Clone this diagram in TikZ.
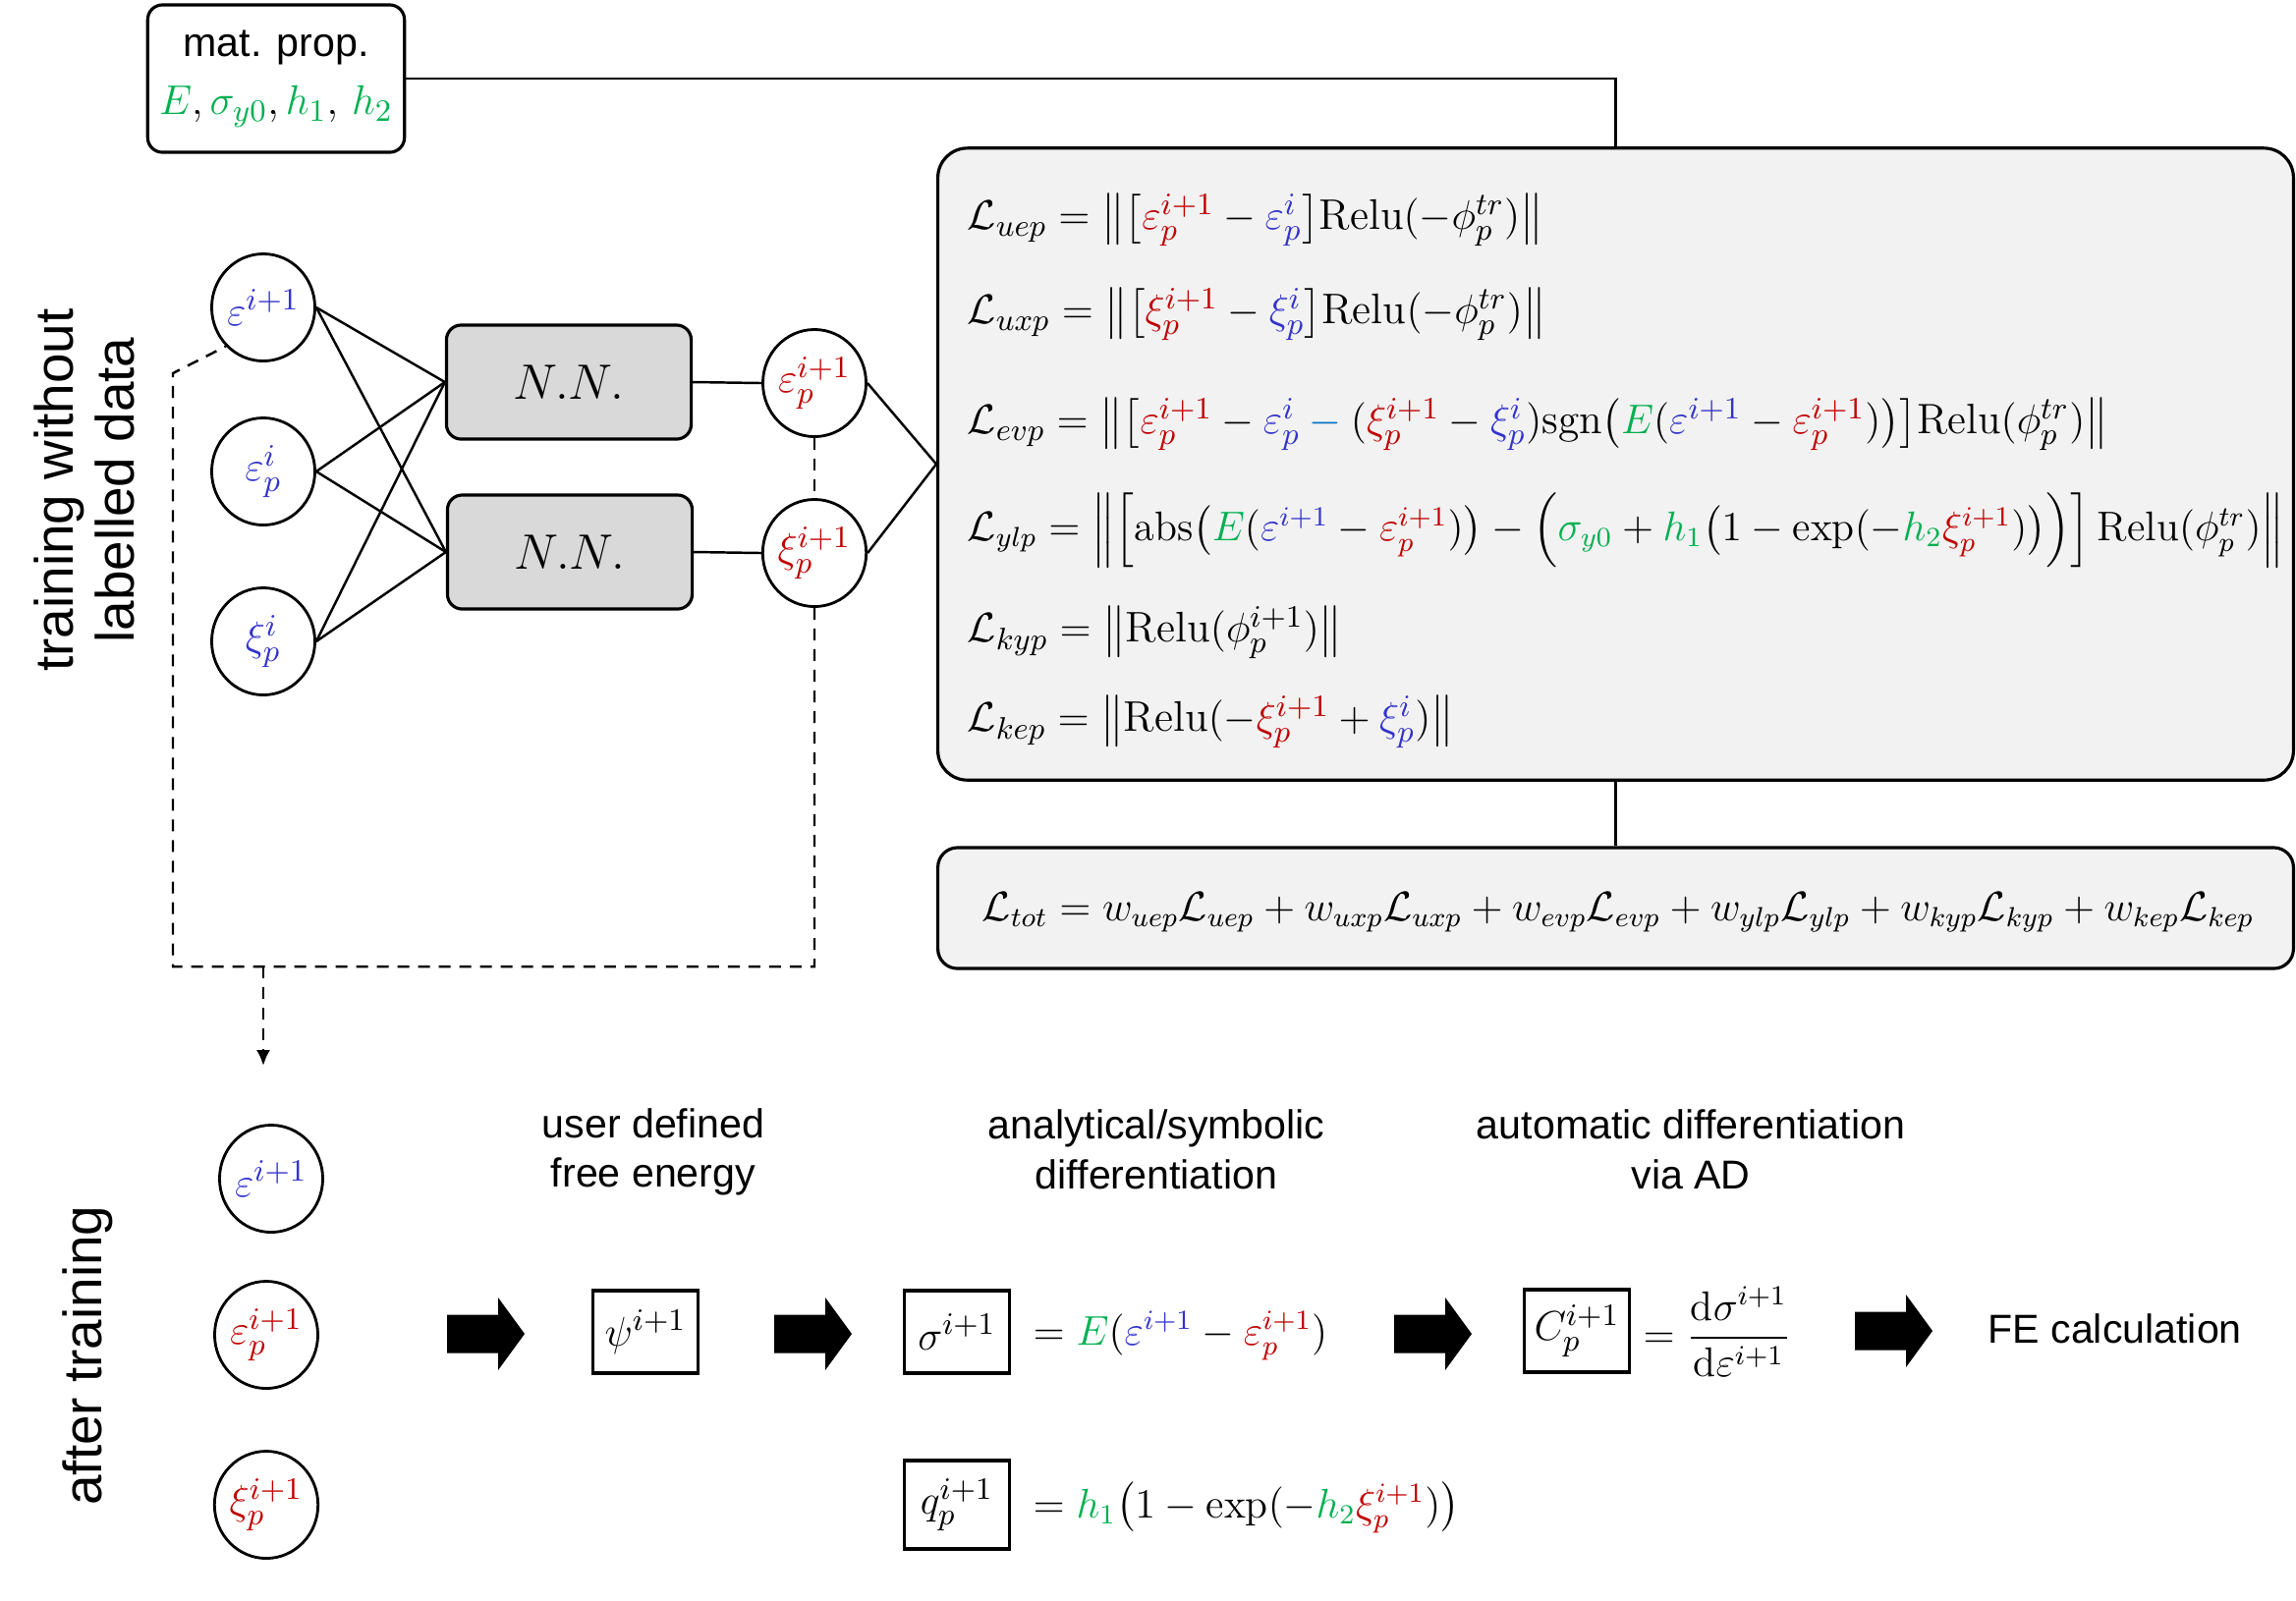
\documentclass[tikz,border=0pt]{standalone}
\usepackage{amsmath}
\usepackage{fontspec}
\newfontfamily\arial{Liberation Sans}
\usetikzlibrary{shapes.geometric,arrows.meta}
\definecolor{cred}{RGB}{192,0,0}
\definecolor{cblue}{RGB}{51,51,204}
\definecolor{cgreen}{RGB}{0,176,80}
\definecolor{clblue}{RGB}{0,112,192}
\definecolor{boxgray}{RGB}{242,242,242}
\definecolor{nngray}{RGB}{217,217,217}
\newcommand{\colR}[1]{{\color{cred}#1}}
\newcommand{\colB}[1]{{\color{cblue}#1}}
\newcommand{\colG}[1]{{\color{cgreen}#1}}
\begin{document}
\begin{tikzpicture}[x=0.01cm,y=-0.01cm,
  lbl/.style={font=\arial\fontsize{11.7}{14.4}\selectfont, align=center},
  side/.style={font=\arial\fontsize{15.6}{17.6}\selectfont, align=center, rotate=90},
  circ/.style={draw, ellipse, line width=0.8pt, minimum width=1.05cm, minimum height=1.09cm, inner sep=0pt, font=\fontsize{12.5}{15}\selectfont},
  nn/.style={draw, rounded corners=0.15cm, fill=nngray, line width=0.9pt, minimum width=2.49cm, minimum height=1.16cm, font=\fontsize{15}{17}\selectfont},
  panel/.style={draw, fill=boxgray, line width=0.9pt, minimum width=13.79cm},
  sq/.style={draw, line width=0.9pt, minimum width=1.07cm, minimum height=0.84cm, inner sep=0pt, font=\fontsize{12.5}{15}\selectfont},
  eq/.style={anchor=west, inner sep=0pt, font=\fontsize{12.4}{15}\selectfont},
  beq/.style={anchor=west, inner sep=0pt, font=\fontsize{12}{14}\selectfont},
  link/.style={line width=0.7pt},
  dline/.style={line width=0.7pt, dash pattern=on 0.12cm off 0.09cm},
  fatarrow/.pic={\fill[black] (0,-19.5) -- (52,-19.5) -- (52,-37) -- (79,0) -- (52,37) -- (52,19.5) -- (0,19.5) -- cycle;}
]
\useasboundingbox (0,0) rectangle (2337,1629);

% material properties
\node[draw, line width=0.9pt, rounded corners=0.15cm, minimum width=2.58cm, minimum height=1.5cm, align=center, font=\fontsize{12.5}{17}\selectfont] (mp) at (281,80)
  {{\arial\fontsize{11.7}{14}\selectfont mat. prop.}\\ $\colG{E},\colG{\sigma_{y0}},\colG{h_1},\,\colG{h_2}$};

% panels
\node[panel, rounded corners=0.3cm, minimum height=6.43cm] (big) at (1644.5,472.5) {};
\node[panel, rounded corners=0.2cm, minimum height=1.23cm] (tot) at (1644.5,924.5) {};
\draw[link] (mp.east) -| (big.north);
\draw[link] (big.south) -- (tot.north);

% loss equations
\node[eq] (e1) at (984,224) {$\mathcal{L}_{uep} = \big\|\big[\colR{\varepsilon_p^{i+1}} - \colB{\varepsilon_p^{i}}\big]\mathrm{Relu}(-\phi_p^{tr})\big\|$};
\node[eq] (e2) at (984,320) {$\mathcal{L}_{uxp} = \big\|\big[\colR{\xi_p^{i+1}} - \colB{\xi_p^{i}}\big]\mathrm{Relu}(-\phi_p^{tr})\big\|$};
\node[eq, font=\fontsize{12.3}{15}\selectfont] (e3) at (984,432) {$\mathcal{L}_{evp} = \big\|\big[\colR{\varepsilon_p^{i+1}} - \colB{\varepsilon_p^{i}} \mathbin{\color{clblue}-} (\colR{\xi_p^{i+1}} - \colB{\xi_p^{i}})\mathrm{sgn}\big(\colG{E}(\colB{\varepsilon^{i+1}} - \colR{\varepsilon_p^{i+1}})\big)\big]\mathrm{Relu}(\phi_p^{tr})\big\|$};
\node[eq, font=\fontsize{12}{15}\selectfont] (e4) at (984,540) {$\mathcal{L}_{ylp} = \Big\|\Big[\mathrm{abs}\big(\colG{E}(\colB{\varepsilon^{i+1}} - \colR{\varepsilon_p^{i+1}})\big) - \Big(\colG{\sigma_{y0}} + \colG{h_1}\big(1 - \exp(-\colG{h_2}\colR{\xi_p^{i+1}})\big)\Big)\Big]\,\mathrm{Relu}(\phi_p^{tr})\Big\|$};
\node[eq] (e5) at (984,644) {$\mathcal{L}_{kyp} = \big\|\mathrm{Relu}(\phi_p^{i+1})\big\|$};
\node[eq] (e6) at (984,735) {$\mathcal{L}_{kep} = \big\|\mathrm{Relu}(-\colR{\xi_p^{i+1}} + \colB{\xi_p^{i}})\big\|$};
\node[eq, font=\fontsize{11.7}{14}\selectfont] (et) at (999,929) {$\mathcal{L}_{tot} = w_{uep}\mathcal{L}_{uep} + w_{uxp}\mathcal{L}_{uxp} + w_{evp}\mathcal{L}_{evp} + w_{ylp}\mathcal{L}_{ylp} + w_{kyp}\mathcal{L}_{kyp} + w_{kep}\mathcal{L}_{kep}$};

% side labels
\node[side] (s1) at (86,499) {training without\\labelled data};
\node[side] (s2) at (89,1380) {after training};

% network
\node[circ] (c1) at (268,313) {$\colB{\varepsilon^{i+1}}$};
\node[circ] (c2) at (268,480) {$\colB{\varepsilon_p^{i}}$};
\node[circ] (c3) at (268,653) {$\colB{\xi_p^{i}}$};
\node[nn] (nn1) at (579,389) {$N.N.$};
\node[nn] (nn2) at (580,562) {$N.N.$};
\node[circ] (o1) at (829,390) {$\colR{\varepsilon_p^{i+1}}$};
\node[circ] (o2) at (829,563) {$\colR{\xi_p^{i+1}}$};
\foreach \c in {c1,c2,c3}{
  \draw[link] (\c.east) -- (nn1.west);
  \draw[link] (\c.east) -- (nn2.west);
}
\draw[link] (nn1.east) -- (o1.west);
\draw[link] (nn2.east) -- (o2.west);
\draw[link] (o1.east) -- (big.west);
\draw[link] (o2.east) -- (big.west);
\draw[dline] (o1.south) -- (o2.north);
\coordinate (d1) at (829,984);
\coordinate (d2) at (176,984);
\coordinate (d3) at (176,380);
\coordinate (as) at (268,984);
\coordinate (ae) at (268,1085);
\draw[dline] (o2.south) -- (d1) -- (d2) -- (d3) -- (c1.south west);
\draw[dline, -{Latex[length=0.16cm,width=0.14cm]}] (as) -- (ae);

% after training
\node[circ] (b1) at (276,1200) {$\colB{\varepsilon^{i+1}}$};
\node[circ] (b2) at (271,1359) {$\colR{\varepsilon_p^{i+1}}$};
\node[circ] (b3) at (271,1532) {$\colR{\xi_p^{i+1}}$};

\node[lbl] (t1) at (665,1173) {user defined\\free energy};
\node[lbl] (t2) at (1177,1170) {analytical/symbolic\\differentiation};
\node[lbl] (t3) at (1721,1170) {automatic differentiation\\via AD};

\pic at (455,1358) {fatarrow};
\pic at (788,1358) {fatarrow};
\pic at (1419,1358) {fatarrow};
\pic at (1888,1355) {fatarrow};

\node[sq] (psi) at (657,1356) {$\psi^{i+1}$};
\node[sq] (sig) at (974,1356) {$\sigma^{i+1}$};
\node[sq, minimum height=0.9cm] (qp) at (974,1532) {$q_p^{i+1}$};
\node[sq] (cp) at (1605,1355) {$C_p^{i+1}$};

\node[beq] (sigeq) at (1051,1360) {$= \colG{E}(\colB{\varepsilon^{i+1}} - \colR{\varepsilon_p^{i+1}})$};
\node[beq] (qeq) at (1051,1535) {$= \colG{h_1}\big(1 - \exp(-\colG{h_2}\colR{\xi_p^{i+1}})\big)$};
\node[beq] (ceq) at (1672,1356) {$= \dfrac{\mathrm{d}\sigma^{i+1}}{\mathrm{d}\varepsilon^{i+1}}$};
\node[lbl, anchor=west] (fe) at (2011,1353) {FE calculation};
\end{tikzpicture}
\end{document}
